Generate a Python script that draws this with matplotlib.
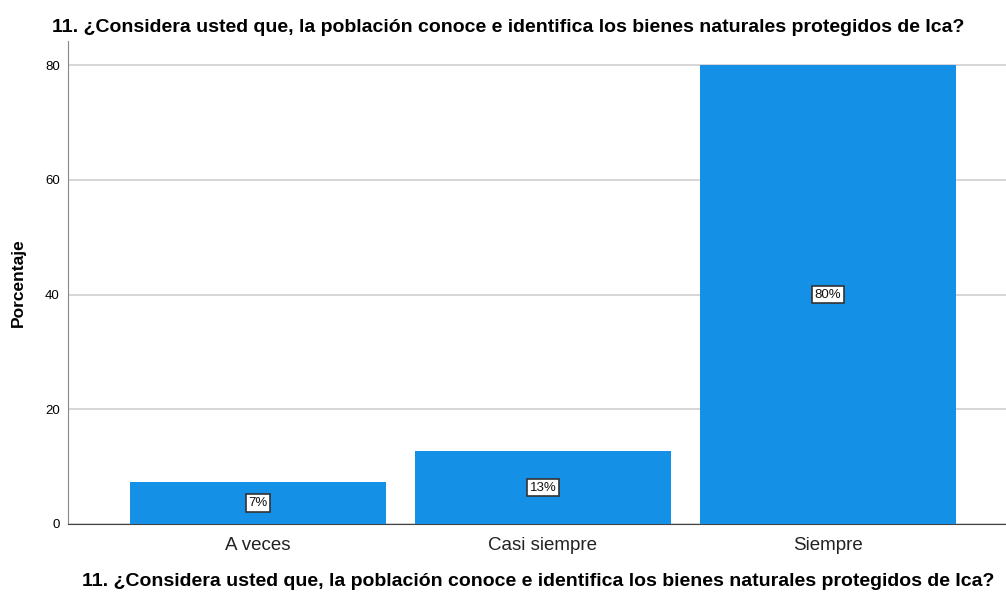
import matplotlib
matplotlib.use("Agg")
import matplotlib.pyplot as plt

plt.rcParams['font.family'] = ['Liberation Sans', 'DejaVu Sans']

categories = ["A veces", "Casi siempre", "Siempre"]
values = [7.33, 12.67, 80.0]
labels = ["7%", "13%", "80%"]
yticks = [0, 20, 40, 60, 80]
title = "11. ¿Considera usted que, la población conoce e identifica los bienes naturales protegidos de Ica?"

W, H = 1006, 592
fig = plt.figure(figsize=(W/100, H/100), dpi=100)
ax = fig.add_axes([68/W, 1-524/H, (1006-68)/W, (524-41)/H])

x = list(range(len(categories)))
ax.bar(x, values, width=0.898, color="#1490e6", zorder=3)
for xi, v, lab in zip(x, values, labels):
    ax.text(xi, v/2, lab, ha="center", va="center", fontsize=9.5, color="#111111", zorder=4,
            bbox=dict(boxstyle="square,pad=0.2", fc="white", ec="#333333", lw=1.2))

ax.set_xlim(-0.667, 2.625)
ax.set_ylim(0, 84.2)
ax.set_yticks(yticks)
ax.set_yticklabels([str(t) for t in yticks], fontsize=9.5)
ax.set_xticks(x)
ax.set_xticklabels(categories, fontsize=13.5, color="#222222")
ax.tick_params(axis="x", length=0, pad=9)
ax.tick_params(axis="y", length=0, pad=6)
ax.yaxis.grid(True, color="#d0d0d0", lw=1.2, zorder=1)
for s in ["top", "right"]:
    ax.spines[s].set_visible(False)
ax.spines["left"].set_color("#888888")
ax.spines["bottom"].set_color("#444444")

ax.set_ylabel("Porcentaje", fontsize=12.5, fontweight="bold", labelpad=14)
fig.text(508/W, 1-27/H, title, ha="center", va="center", fontsize=14, fontweight="bold")
fig.text(538/W, 1-582/H, title, ha="center", va="center", fontsize=14, fontweight="bold")

fig.savefig("out.png", dpi=100)
